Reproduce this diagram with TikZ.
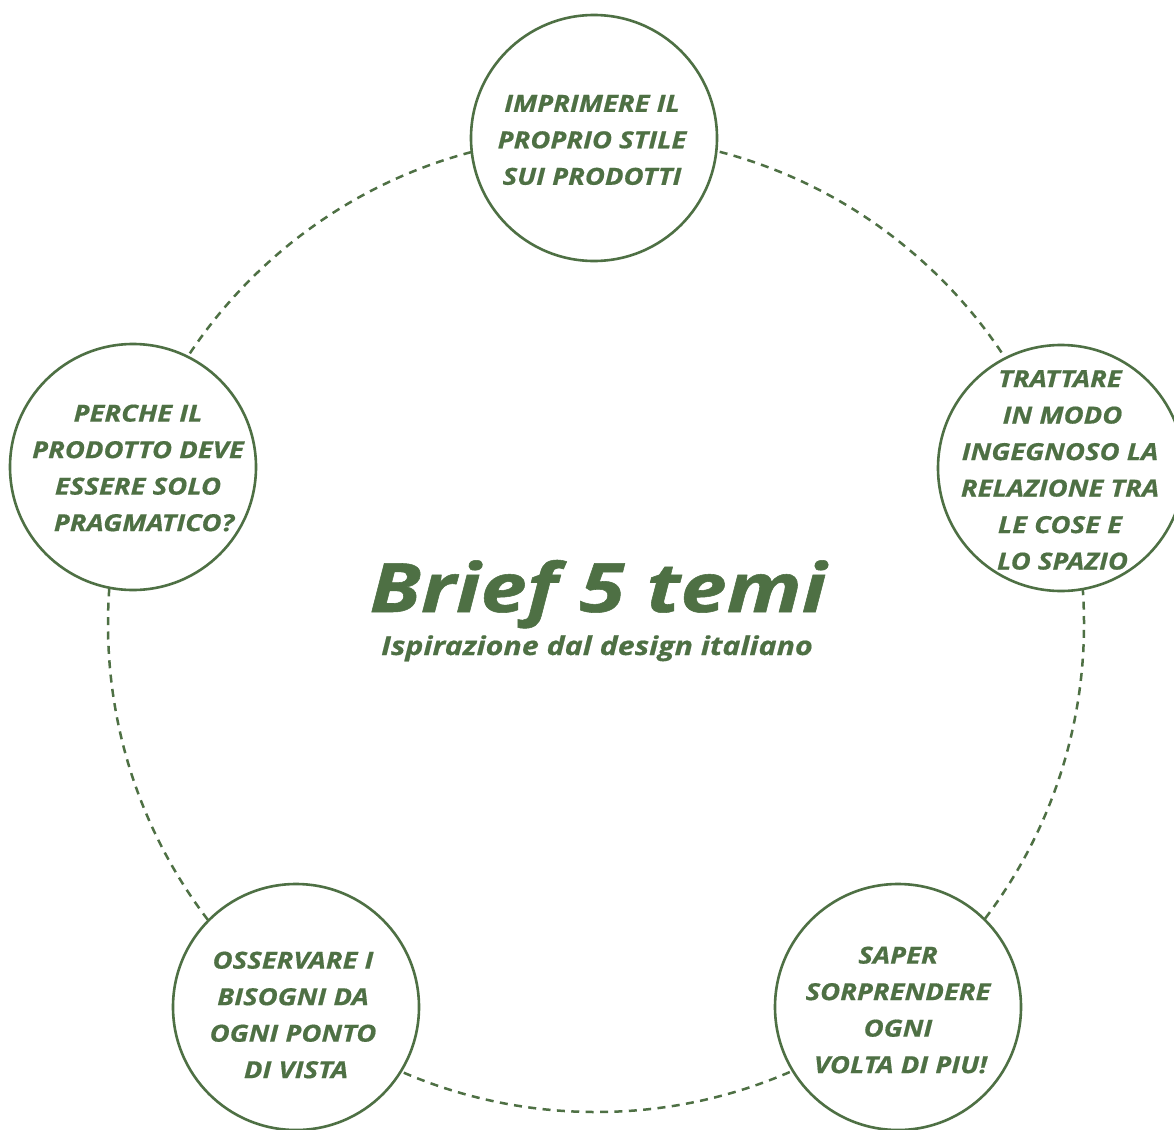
\documentclass[tikz,border=0pt]{standalone}
\usepackage{fontspec}
\setmainfont{Open Sans}
\newfontfamily\leaffont[FakeStretch=1.17,FakeBold=0.6]{Open Sans}
\newfontfamily\titlefont[FakeStretch=1.22,FakeBold=0.8]{Open Sans}
\definecolor{leaf}{RGB}{78,112,68}
\begin{document}
\begin{tikzpicture}[x=1pt,y=-1pt,
  bubble/.style={circle,draw=leaf,line width=2.6pt,fill=white,minimum size=246pt,inner sep=0pt},
  btext/.style={text=leaf,align=center,inner sep=0pt,font=\leaffont\fontsize{23.5}{36.5}\selectfont\bfseries\itshape},
  ring/.style={draw=leaf,line width=2.5pt,dash pattern=on 8pt off 6.4pt}]
\useasboundingbox (0,0) rectangle (1174,1129);
\clip (0,0) rectangle (1174,1129);
\fill[white] (0,0) rectangle (1174,1129);
\coordinate (c) at (596,624);
\draw[ring] (c) circle[radius=488pt];
\node[bubble] (b1) at (594,138) {};
\node[bubble] (b2) at (1061,468) {};
\node[bubble] (b3) at (898,1007) {};
\node[bubble] (b4) at (296,1007) {};
\node[bubble] (b5) at (133,467) {};
\node[btext] (t1) at (592,140) {IMPRIMERE IL\\PROPRIO STILE\\SUI PRODOTTI};
\node[btext] (t2) at (1060,470) {TRATTARE\\\hspace*{5pt}IN MODO\\INGEGNOSO LA\\RELAZIONE TRA\\LE COSE E\\\hspace*{5pt}LO SPAZIO};
\node[btext] (t3) at (898,1010) {SAPER\\SORPRENDERE\\OGNI\\\hspace*{5pt}VOLTA DI PIU!};
\node[btext] (t4) at (293,1015) {OSSERVARE I\\BISOGNI DA\\OGNI PONTO\\\hspace*{6pt}DI VISTA};
\node[btext] (t5) at (138,468) {PERCHE IL\\PRODOTTO DEVE\\ESSERE SOLO\\\hspace*{12pt}PRAGMATICO?};
\node[text=leaf,anchor=base,inner sep=0pt,font=\titlefont\fontsize{68}{72}\selectfont\bfseries\itshape] (title) at (598,612) {Brief 5 temi};
\node[text=leaf,anchor=base,inner sep=0pt,font=\leaffont\fontsize{26}{30}\selectfont\bfseries\itshape] (sub) at (597,655) {Ispirazione dal design italiano};
\end{tikzpicture}
\end{document}
